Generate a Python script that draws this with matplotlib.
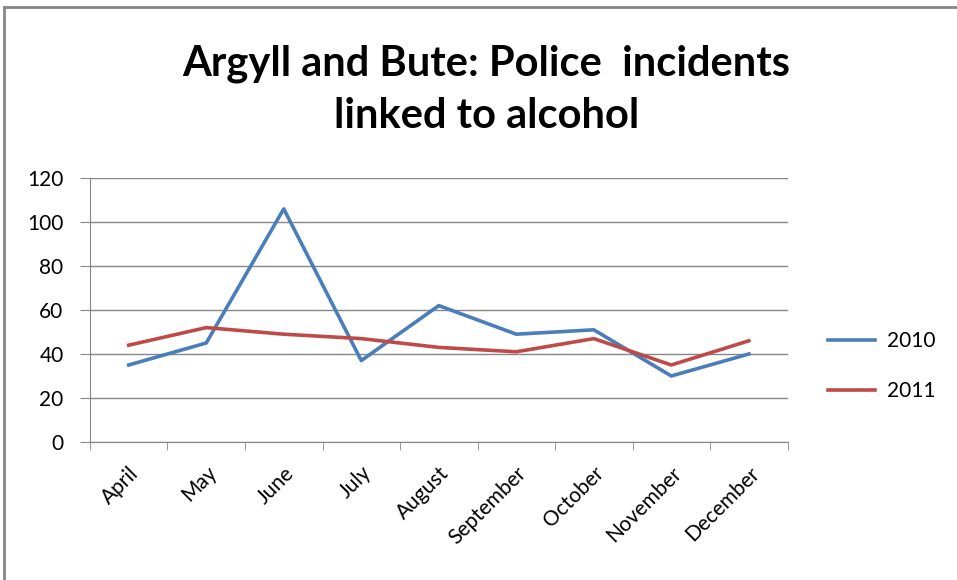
import matplotlib.pyplot as plt
import numpy as np

plt.rcParams['font.family'] = ['Lato', 'DejaVu Sans']

months = ["April", "May", "June", "July", "August", "September", "October", "November", "December"]
y2010 = [35, 45, 106, 37, 62, 49, 51, 30, 40]
y2011 = [44, 52, 49, 47, 43, 41, 47, 35, 46]

fig = plt.figure(figsize=(9.57, 5.80), dpi=100)
ax = fig.add_axes([0.094, 0.238, 0.729, 0.455])

x = np.arange(len(months))
ax.plot(x, y2010, color="#4A7EBB", lw=2.6, label="2010")
ax.plot(x, y2011, color="#BE4B48", lw=2.6, label="2011")

ax.set_xlim(-0.5, len(months) - 0.5)
ax.set_ylim(0, 120)
ax.set_yticks(range(0, 121, 20))
ax.set_xticks(x)
ax.set_xticklabels(months, rotation=45, ha="right", rotation_mode="anchor", fontsize=15)
ax.set_xticks(np.arange(-0.5, len(months)), minor=True)
ax.tick_params(axis="x", which="major", length=0, pad=15)
ax.tick_params(axis="x", which="minor", length=6, color="#868686")
ax.tick_params(axis="y", labelsize=15, length=7, color="#868686", pad=12)
ax.grid(axis="y", color="#868686", lw=1)
ax.set_axisbelow(True)
for s in ["top", "right"]:
    ax.spines[s].set_visible(False)
for s in ["left", "bottom"]:
    ax.spines[s].set_color("#868686")

fig.legend(loc="center left", bbox_to_anchor=(0.865, 0.369), frameon=False, borderpad=0,
           borderaxespad=0, fontsize=15, handlelength=2.25, handletextpad=0.6, labelspacing=1.45)

fig.text(0.508, 0.845, "Argyll and Bute: Police  incidents\nlinked to alcohol",
         ha="center", va="center", fontsize=30, fontweight="bold", linespacing=1.45)

# outer frame (left and top edges visible)
fig.add_artist(plt.Line2D([0.004, 0.004], [0, 0.988], color="#868686", lw=2))
fig.add_artist(plt.Line2D([0.004, 1], [0.988, 0.988], color="#868686", lw=2))

fig.savefig("out.png", dpi=100)
